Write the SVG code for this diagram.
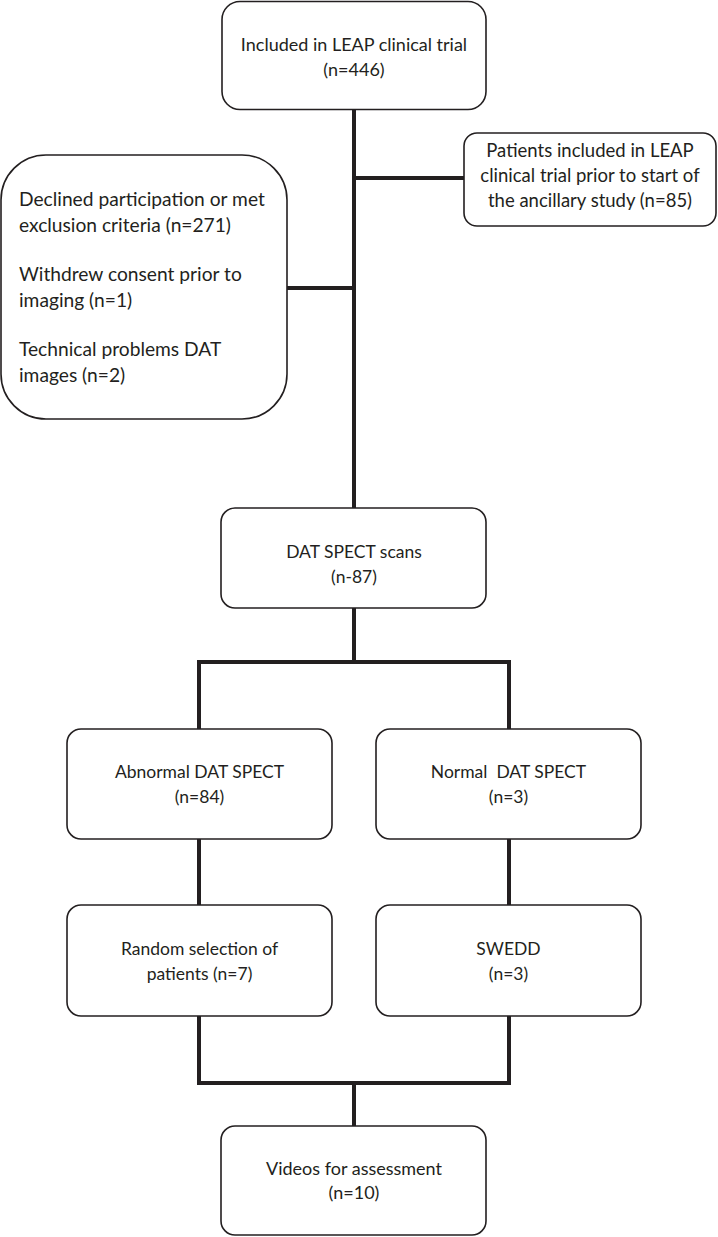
<svg xmlns="http://www.w3.org/2000/svg" width="718" height="1237" viewBox="0 0 718 1237">
<style>
.box{fill:#fff;stroke:#231f20;stroke-width:1.6}
.c{fill:none;stroke:#231f20;stroke-width:4;stroke-linejoin:miter}
text{font-family:Lato,"Open Sans","Liberation Sans",sans-serif;font-size:17.5px;fill:#231f20}
.m{text-anchor:middle}
.t18{font-size:18px}
.t185{font-size:18.5px}
.t19{font-size:19.2px}
</style>
<rect width="718" height="1237" fill="#fff"/>
<g id="connectors">
<polyline class="c" points="354,110 354,508"/>
<polyline class="c" points="354,178 464,178"/>
<polyline class="c" points="287,288 354,288"/>
<polyline class="c" points="354,608 354,662"/>
<polyline class="c" points="199,729 199,662 509,662 509,729"/>
<polyline class="c" points="199,839 199,905"/>
<polyline class="c" points="509,839 509,905"/>
<polyline class="c" points="199,1016 199,1083 509,1083 509,1016"/>
<polyline class="c" points="354,1083 354,1126"/>
</g>
<g id="n-included" class="t18">
<rect class="box" x="222" y="1.5" width="264" height="108" rx="18"/>
<text class="m t18" x="354" y="51">Included in LEAP clinical trial</text>
<text class="m t18" x="354" y="76">(n=446)</text>
</g>
<g id="n-prior">
<rect class="box" x="464" y="133" width="252" height="93" rx="13"/>
<text class="m t185" x="590" y="157">Patients included in LEAP</text>
<text class="m t185" x="590" y="182">clinical trial prior to start of</text>
<text class="m t185" x="590" y="207">the ancillary study (n=85)</text>
</g>
<g id="n-excluded">
<rect class="box" x="1" y="155" width="286" height="264" rx="45"/>
<text class="t19" x="19" y="206">Declined participation or met</text>
<text class="t19" x="19" y="232">exclusion criteria (n=271)</text>
<text class="t19" x="19" y="281">Withdrew consent prior to</text>
<text class="t19" x="19" y="307">imaging (n=1)</text>
<text class="t19" x="19" y="356">Technical problems DAT</text>
<text class="t19" x="19" y="382">images (n=2)</text>
</g>
<g id="n-dat">
<rect class="box" x="221" y="508" width="265" height="100" rx="14"/>
<text class="m" x="354" y="558">DAT SPECT scans</text>
<text class="m" x="354" y="583">(n-87)</text>
</g>
<g id="n-abnormal">
<rect class="box" x="67" y="729" width="265" height="110" rx="14"/>
<text class="m" x="199.5" y="778">Abnormal DAT SPECT</text>
<text class="m" x="199.5" y="803">(n=84)</text>
</g>
<g id="n-normal">
<rect class="box" x="376" y="729" width="265" height="110" rx="14"/>
<text class="m" x="508.5" y="778" xml:space="preserve">Normal  DAT SPECT</text>
<text class="m" x="508.5" y="803">(n=3)</text>
</g>
<g id="n-random">
<rect class="box" x="67" y="905" width="265" height="111" rx="14"/>
<text class="m" x="199.5" y="955">Random selection of</text>
<text class="m" x="199.5" y="980">patients (n=7)</text>
</g>
<g id="n-swedd">
<rect class="box" x="376" y="905" width="265" height="111" rx="14"/>
<text class="m" x="508.5" y="955">SWEDD</text>
<text class="m" x="508.5" y="980">(n=3)</text>
</g>
<g id="n-videos">
<rect class="box" x="221" y="1126" width="265" height="109" rx="14"/>
<text class="m t18" x="354" y="1175">Videos for assessment</text>
<text class="m t18" x="354" y="1199">(n=10)</text>
</g>
</svg>
